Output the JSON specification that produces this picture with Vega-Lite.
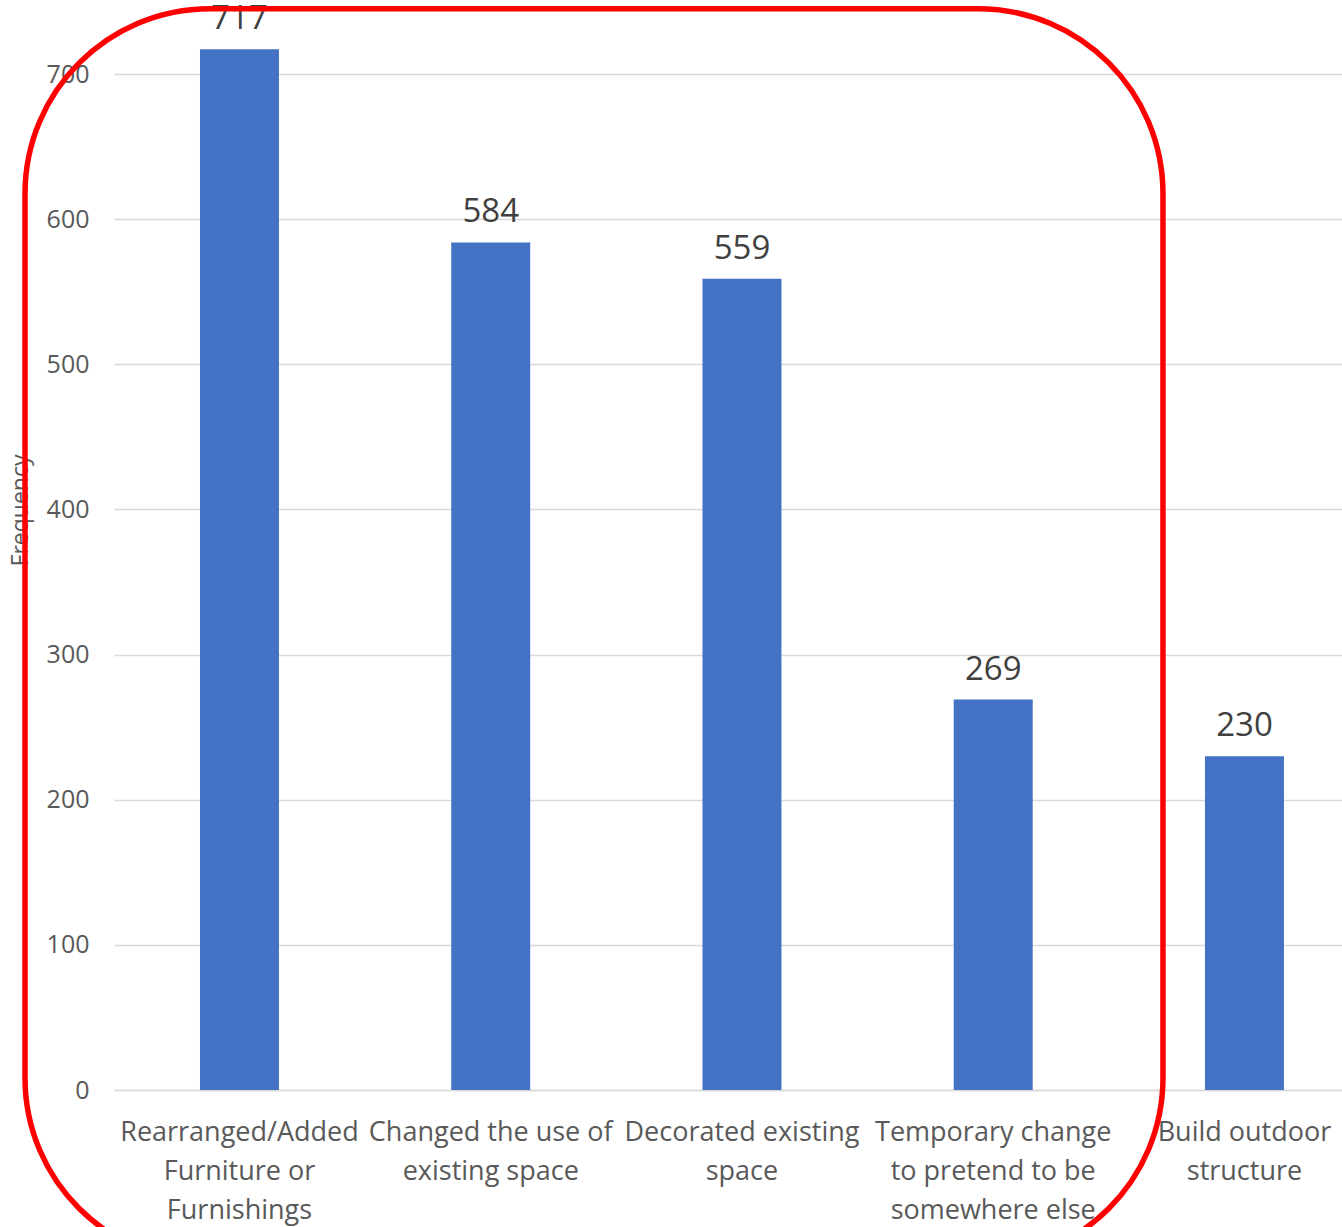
{
  "$schema": "https://vega.github.io/schema/vega-lite/v6.json",
  "width": 1228,
  "height": 1090,
  "autosize": {"type": "none"},
  "padding": {"left": 114, "top": 0, "right": 0, "bottom": 137},
  "background": "white",
  "config": {"view": {"stroke": null}, "font": "Open Sans"},
  "datasets": {
    "bars": [
      {"activity": "Rearranged/Added Furniture or Furnishings", "frequency": 717},
      {"activity": "Changed the use of existing space", "frequency": 584},
      {"activity": "Decorated existing space", "frequency": 559},
      {"activity": "Temporary change to pretend to be somewhere else", "frequency": 269},
      {"activity": "Build outdoor structure", "frequency": 230}
    ],
    "highlight": [
      {"from": "Rearranged/Added Furniture or Furnishings", "to": "Temporary change to pretend to be somewhere else", "top": 745, "bottom": -119}
    ]
  },
  "layer": [
    {
      "data": {"name": "bars"},
      "mark": {"type": "bar", "color": "#4472c4"},
      "encoding": {
        "x": {
          "field": "activity",
          "type": "nominal",
          "sort": null,
          "title": null,
          "scale": {
            "domain": [
              "Rearranged/Added Furniture or Furnishings",
              "Changed the use of existing space",
              "Decorated existing space",
              "Temporary change to pretend to be somewhere else",
              "Build outdoor structure"
            ],
            "paddingInner": 0.6856,
            "paddingOuter": 0.2866,
            "align": 0.597
          },
          "axis": {
            "labelAngle": 0,
            "labelFontSize": 27,
            "labelColor": "#595959",
            "labelLineHeight": 39,
            "labelPadding": 29,
            "labelLimit": 0,
            "labelOverlap": false,
            "ticks": false,
            "domainColor": "#d9d9d9",
            "domainWidth": 1.5,
            "labelExpr": "datum.value == 'Rearranged/Added Furniture or Furnishings' ? ['Rearranged/Added','Furniture or','Furnishings'] : datum.value == 'Changed the use of existing space' ? ['Changed the use of','existing space'] : datum.value == 'Decorated existing space' ? ['Decorated existing','space'] : datum.value == 'Temporary change to pretend to be somewhere else' ? ['Temporary change','to pretend to be','somewhere else'] : ['Build outdoor','structure']"
          }
        },
        "y": {
          "field": "frequency",
          "type": "quantitative",
          "title": "Frequency",
          "scale": {"domain": [0, 751], "nice": false},
          "axis": {
            "values": [0, 100, 200, 300, 400, 500, 600, 700],
            "labelFontSize": 25,
            "labelColor": "#595959",
            "labelPadding": 25,
            "ticks": false,
            "domain": false,
            "gridColor": "#d9d9d9",
            "gridWidth": 1.5,
            "titleFontSize": 23,
            "titleFontWeight": "normal",
            "titleColor": "#595959",
            "titleAngle": 270,
            "titleBaseline": "alphabetic",
            "titleAlign": "center",
            "titleX": -87,
            "titleY": 510
          }
        }
      }
    },
    {
      "data": {"name": "bars"},
      "mark": {"type": "text", "baseline": "alphabetic", "dy": -20, "fontSize": 33, "color": "#404040"},
      "encoding": {
        "x": {"field": "activity", "type": "nominal", "sort": null},
        "y": {"field": "frequency", "type": "quantitative"},
        "text": {"field": "frequency", "type": "quantitative"}
      }
    },
    {
      "data": {"name": "highlight"},
      "mark": {"type": "rect", "filled": false, "stroke": "#ff0000", "strokeWidth": 5.5, "cornerRadius": 185},
      "encoding": {
        "x": {"field": "from", "type": "nominal", "bandPosition": -2.215},
        "x2": {"field": "to", "bandPosition": 2.649},
        "y": {"field": "top", "type": "quantitative"},
        "y2": {"field": "bottom"}
      }
    }
  ]
}
